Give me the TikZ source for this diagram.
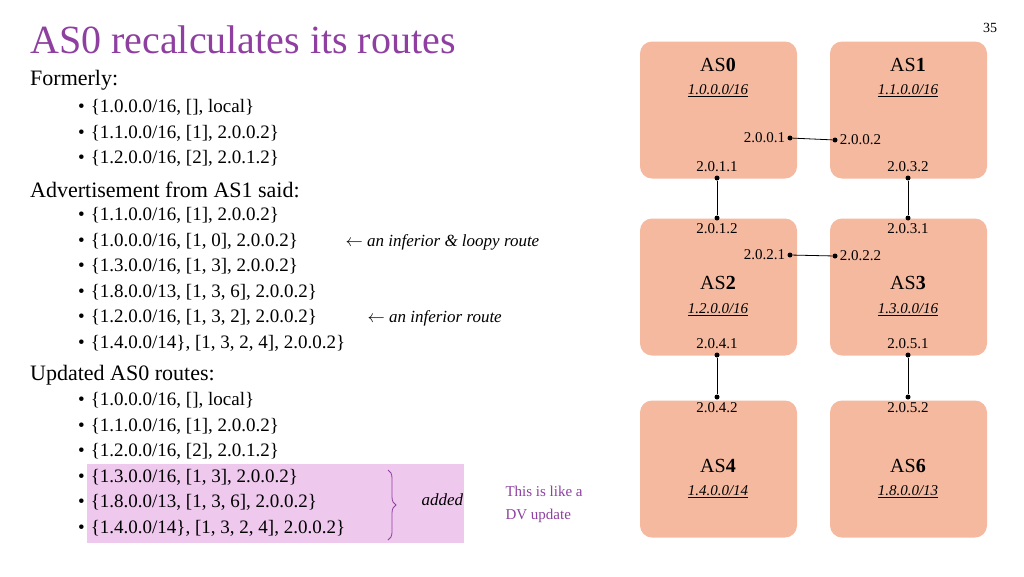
\documentclass[tikz,border=0pt]{standalone}
\usepackage{fontspec}
\setmainfont{Liberation Serif}
\usetikzlibrary{positioning,decorations.pathreplacing}
\definecolor{titlepurple}{HTML}{8E3FA0}
\definecolor{asfill}{HTML}{F5B9A0}
\definecolor{hlpink}{HTML}{EFC8EE}
\tikzset{
  body/.style={anchor=west, font=\fontsize{19}{21}\selectfont, inner sep=0pt},
  head/.style={anchor=west, font=\fontsize{22}{24}\selectfont, inner sep=0pt},
  asbox/.style={fill=asfill, rounded corners=12pt, minimum width=157pt, minimum height=137pt, inner sep=0pt},
  asname/.style={font=\fontsize{20}{22}\selectfont},
  asprefix/.style={font=\fontsize{15}{17}\selectfont\itshape},
  iface/.style={font=\fontsize{15}{17}\selectfont, inner sep=1pt},
  dot/.style={circle, fill=black, inner sep=0pt, minimum size=5pt},
  note/.style={anchor=west, font=\fontsize{17}{19}\selectfont\itshape},
}
\begin{document}
\begin{tikzpicture}[x=1pt,y=-1pt]
\useasboundingbox (0,0) rectangle (1024,576);
% highlight behind added routes
\fill[hlpink] (87,464) rectangle (464,543);
% title and page number
\node[anchor=west, inner sep=0pt, text=titlepurple, font=\fontsize{40}{44}\selectfont] (title) at (30,40) {AS0 recalculates its routes};
\node[font=\fontsize{14}{16}\selectfont] (page) at (990,28) {35};
% left column text
\node[head] (h1) at (30,80) {Formerly:};
\foreach \t [count=\i] in {{\{1.0.0.0/16, [], local\}},{\{1.1.0.0/16, [1], 2.0.0.2\}},{\{1.2.0.0/16, [2], 2.0.1.2\}}}
  \node[body] (f\i) at (78,{82+25.5*\i}) {\textbullet\hspace{6pt}\t};
\node[head] (h2) at (30,190) {Advertisement from AS1 said:};
\foreach \t [count=\i] in {{\{1.1.0.0/16, [1], 2.0.0.2\}},{\{1.0.0.0/16, [1, 0], 2.0.0.2\}},{\{1.3.0.0/16, [1, 3], 2.0.0.2\}},{\{1.8.0.0/13, [1, 3, 6], 2.0.0.2\}},{\{1.2.0.0/16, [1, 3, 2], 2.0.0.2\}},{\{1.4.0.0/14\}, [1, 3, 2, 4], 2.0.0.2\}}}
  \node[body] (a\i) at (78,{190+25.5*\i}) {\textbullet\hspace{6pt}\t};
\node[note] (n1) at (342,242) {$\leftarrow$ an inferior \& loopy route};
\node[note] (n2) at (364,318) {$\leftarrow$ an inferior route};
\node[head] (h3) at (30,375) {Updated AS0 routes:};
\foreach \t [count=\i] in {{\{1.0.0.0/16, [], local\}},{\{1.1.0.0/16, [1], 2.0.0.2\}},{\{1.2.0.0/16, [2], 2.0.1.2\}},{\{1.3.0.0/16, [1, 3], 2.0.0.2\}},{\{1.8.0.0/13, [1, 3, 6], 2.0.0.2\}},{\{1.4.0.0/14\}, [1, 3, 2, 4], 2.0.0.2\}}}
  \node[body] (u\i) at (78,{375+25.5*\i}) {\textbullet\hspace{6pt}\t};
\draw[titlepurple, thick, decorate, decoration={brace, amplitude=8pt}] (388,470) -- (388,540);
\node[note] (added) at (418,500) {added};
\node[anchor=west, text=titlepurple, align=left, font=\fontsize{15}{23}\selectfont] (dv) at (502,504) {This is like a\\DV update};
% AS boxes
\node[asbox] (as0) at (718.5,110) {};
\node[asbox] (as1) at (908.5,110) {};
\node[asbox] (as2) at (718.5,287) {};
\node[asbox] (as3) at (908.5,287) {};
\node[asbox] (as4) at (718.5,469) {};
\node[asbox] (as6) at (908.5,469) {};
\node[asname] at (718,65) {AS\textbf{0}};
\node[asprefix] at (718,91) {\underline{1.0.0.0/16}};
\node[asname] at (908,65) {AS\textbf{1}};
\node[asprefix] at (908,91) {\underline{1.1.0.0/16}};
\node[asname] at (718,283) {AS\textbf{2}};
\node[asprefix] at (718,310) {\underline{1.2.0.0/16}};
\node[asname] at (908,283) {AS\textbf{3}};
\node[asprefix] at (908,310) {\underline{1.3.0.0/16}};
\node[asname] at (718,466) {AS\textbf{4}};
\node[asprefix] at (718,492) {\underline{1.4.0.0/14}};
\node[asname] at (908,466) {AS\textbf{6}};
\node[asprefix] at (908,492) {\underline{1.8.0.0/13}};
% interfaces
\node[dot] (d001) at (790,138) {};
\node[dot] (d002) at (835,140) {};
\node[iface, left=1pt of d001] {2.0.0.1};
\node[iface, right=1pt of d002] {2.0.0.2};
\node[dot] (d011) at (717,178) {};
\node[dot] (d012) at (717,218) {};
\node[iface, above=2pt of d011] {2.0.1.1};
\node[iface, below=2pt of d012] {2.0.1.2};
\node[dot] (d032) at (908,178) {};
\node[dot] (d031) at (908,218) {};
\node[iface, above=2pt of d032] {2.0.3.2};
\node[iface, below=2pt of d031] {2.0.3.1};
\node[dot] (d021) at (790,255) {};
\node[dot] (d022) at (835,256) {};
\node[iface, left=1pt of d021] {2.0.2.1};
\node[iface, right=1pt of d022] {2.0.2.2};
\node[dot] (d041) at (717,355) {};
\node[dot] (d042) at (717,397) {};
\node[iface, above=2pt of d041] {2.0.4.1};
\node[iface, below=2pt of d042] {2.0.4.2};
\node[dot] (d051) at (908,355) {};
\node[dot] (d052) at (908,397) {};
\node[iface, above=2pt of d051] {2.0.5.1};
\node[iface, below=2pt of d052] {2.0.5.2};
% links
\draw[thick] (d001) -- (d002);
\draw[thick] (d011) -- (d012);
\draw[thick] (d032) -- (d031);
\draw[thick] (d021) -- (d022);
\draw[thick] (d041) -- (d042);
\draw[thick] (d051) -- (d052);
\end{tikzpicture}
\end{document}
